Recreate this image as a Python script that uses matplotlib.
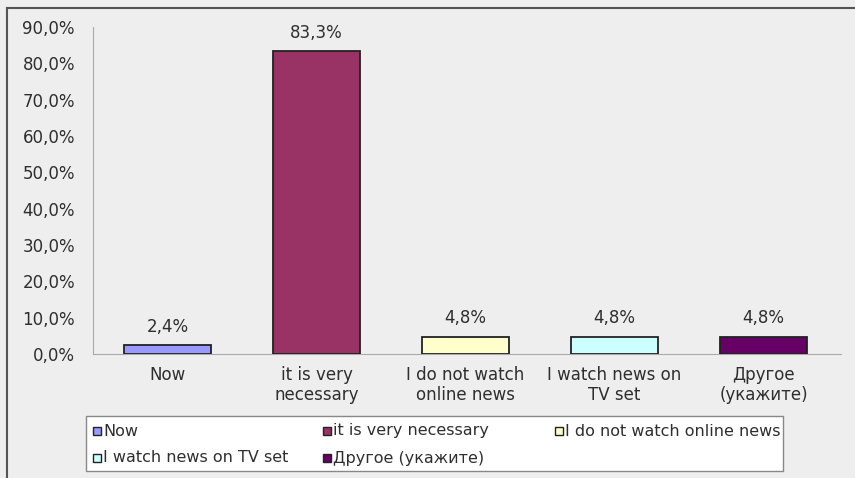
import matplotlib
matplotlib.use("Agg")
import matplotlib.pyplot as plt
from matplotlib.lines import Line2D
from matplotlib.patches import Rectangle

plt.rcParams['font.family'] = ['DejaVu Sans']

categories = ["Now", "it is very necessary", "I do not watch online news",
              "I watch news on TV set", "Другое (укажите)"]
tick_labels = ["Now", "it is very\nnecessary", "I do not watch\nonline news",
               "I watch news on\nTV set", "Другое\n(укажите)"]
values = [2.4, 83.3, 4.8, 4.8, 4.8]
colors = ["#9999ff", "#993366", "#ffffcc", "#ccffff", "#660066"]
yticks = [0, 10, 20, 30, 40, 50, 60, 70, 80, 90]

bg = "#eeeeee"
txt = "#2e2e2e"
W, H = 855, 478

fig = plt.figure(figsize=(W/100, H/100), dpi=100, facecolor=bg)
ax = fig.add_axes([93/W, 1-354/H, 745/W, 327/H])
ax.set_facecolor(bg)

x = range(len(values))
bars = ax.bar(x, values, width=0.58, color=colors, edgecolor="#222222", linewidth=1.3, zorder=3)
for b, v in zip(bars, values):
    ax.annotate(f"{v:.1f}%".replace(".", ","), (b.get_x() + b.get_width()/2, v),
                xytext=(0, 7), textcoords="offset points", ha="center", va="bottom",
                fontsize=12, color=txt)

ax.set_xlim(-0.5, 4.5)
ax.set_ylim(0, 90)
ax.set_yticks(yticks)
ax.set_yticklabels([f"{t:.1f}%".replace(".", ",") for t in yticks])
ax.set_xticks(list(x))
ax.set_xticklabels(tick_labels, linespacing=1.1)
ax.tick_params(axis="both", length=0, labelsize=12, labelcolor=txt)
ax.tick_params(axis="y", pad=13)
ax.tick_params(axis="x", pad=9)
for s in ["top", "right"]:
    ax.spines[s].set_visible(False)
ax.spines["left"].set_color("#aaaaaa")
ax.spines["bottom"].set_color("#aaaaaa")
ax.spines["bottom"].set_bounds(-0.5, 4.52)

# legend box with fixed-width columns, filled row by row
fig.add_artist(Rectangle((86/W, 1-471/H), 697/W, 55/H, transform=fig.transFigure,
                         facecolor="white", edgecolor="#888888", linewidth=1))
col_x = [93, 323, 555]
row_y = [431, 458]
for i, (lab, c) in enumerate(zip(categories, colors)):
    cx = col_x[i % 3]
    cy = row_y[i // 3]
    fig.add_artist(Rectangle((cx/W, 1-(cy+4)/H), 8/W, 8/H, transform=fig.transFigure,
                             facecolor=c, edgecolor="#222222", linewidth=1))
    fig.text((cx+10)/W, 1-cy/H, lab, fontsize=11.5, color=txt, ha="left", va="center")

# dark frame lines on the left and top edges
fig.add_artist(Line2D([7/W, 7/W], [0, 1-8/H], color="#555555", linewidth=1.5, transform=fig.transFigure))
fig.add_artist(Line2D([7/W, 1], [1-8/H, 1-8/H], color="#555555", linewidth=1.5, transform=fig.transFigure))

fig.savefig("out.png", dpi=100, facecolor=bg)
